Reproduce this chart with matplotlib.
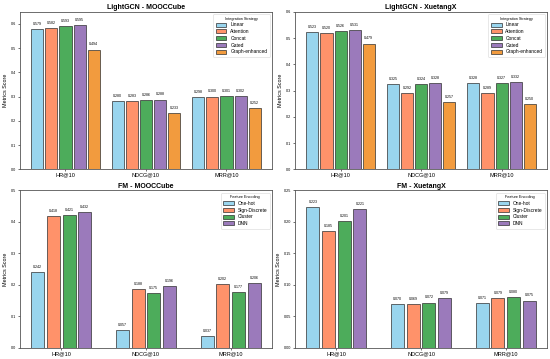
import matplotlib
matplotlib.use("Agg")
import numpy as np
import matplotlib.pyplot as plt

plt.rcParams['font.family'] = ['Liberation Sans', 'DejaVu Sans']

metrics = ["HR@10", "NDCG@10", "MRR@10"]

strategies = ["Linear", "Attention", "Concat", "Gated", "Graph-enhanced"]
lgcn_mooc = [
    [0.579, 0.280, 0.298],
    [0.582, 0.283, 0.300],
    [0.593, 0.286, 0.301],
    [0.595, 0.288, 0.302],
    [0.494, 0.233, 0.252],
]
lgcn_xt = [
    [0.523, 0.325, 0.328],
    [0.520, 0.292, 0.289],
    [0.526, 0.324, 0.327],
    [0.531, 0.328, 0.332],
    [0.479, 0.257, 0.250],
]

encodings = ["One-hot", "Sign-Discrete", "Cluster", "DNN"]
fm_mooc = [
    [0.242, 0.057, 0.037],
    [0.418, 0.188, 0.202],
    [0.421, 0.175, 0.177],
    [0.432, 0.196, 0.206],
]
fm_xt = [
    [0.223, 0.070, 0.071],
    [0.185, 0.069, 0.079],
    [0.201, 0.072, 0.080],
    [0.221, 0.079, 0.075],
]

colors = ["#87CEEB", "#FF7F50", "#2E9E3E", "#8A63B0", "#F08A1C"]


def draw(ax, title, names, data, legend_title, top, width, pitch):
    x = np.arange(len(metrics))
    n = len(names)
    for i, (name, vals) in enumerate(zip(names, data)):
        pos = x + (i - (n - 1) / 2) * pitch
        bars = ax.bar(pos, vals, width, label=name, color=colors[i], alpha=0.85,
                      edgecolor="#333333", linewidth=0.6)
        for b, v in zip(bars, vals):
            ax.text(b.get_x() + b.get_width() / 2, v + top * 0.02, f"{v:.3f}",
                    ha="center", va="bottom", fontsize=2.6)
    ax.set_title(title, fontsize=5, fontweight="bold", pad=2)
    ax.set_ylabel("Metrics Score", fontsize=3.9, labelpad=2)
    ax.set_xticks(x)
    ax.set_xticklabels(metrics, fontsize=4)
    ax.tick_params(axis="y", labelsize=2.7, length=1.5, width=0.4, pad=1)
    ax.tick_params(axis="x", length=1.5, width=0.4, pad=1)
    ax.set_ylim(0, top)
    for s in ax.spines.values():
        s.set_linewidth(0.6)
        s.set_color("#555555")
    leg = ax.legend(title=legend_title, fontsize=3.5, title_fontsize=2.7,
                    loc="upper right", frameon=True, handlelength=2.2,
                    handleheight=0.9, borderpad=0.5, labelspacing=0.35)
    leg.get_frame().set_linewidth(0.4)


fig, axes = plt.subplots(2, 2, figsize=(5.5, 3.59), dpi=100)
draw(axes[0, 0], "LightGCN - MOOCCube", strategies, lgcn_mooc, "Integration Strategy", 0.65, 0.15, 0.175)
draw(axes[0, 1], "LightGCN - XuetangX", strategies, lgcn_xt, "Integration Strategy", 0.6, 0.15, 0.175)
draw(axes[1, 0], "FM - MOOCCube", encodings, fm_mooc, "Feature Encoding", 0.5, 0.155, 0.185)
draw(axes[1, 1], "FM - XuetangX", encodings, fm_xt, "Feature Encoding", 0.25, 0.155, 0.185)

plt.subplots_adjust(left=0.036, right=0.995, bottom=0.031, top=0.967, wspace=0.09, hspace=0.134)
plt.savefig("out.png", dpi=100)
